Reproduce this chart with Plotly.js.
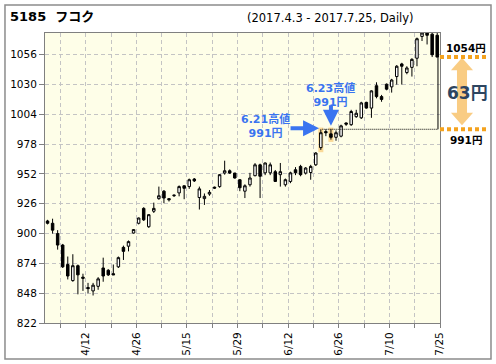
<!DOCTYPE html>
<html><head><meta charset="utf-8">
<script src="https://cdn.plot.ly/plotly-3.0.1.min.js"></script>
<style>html,body{margin:0;padding:0;background:#fff}#chart{width:496px;height:364px}</style>
</head><body><div id="chart"></div>
<script>
const dates = ['4/3','4/4','4/5','4/6','4/7','4/10','4/11','4/12','4/13','4/14','4/17','4/18','4/19','4/20','4/21','4/24','4/25','4/26','4/27','4/28',
'5/1','5/2','5/8','5/9','5/10','5/11','5/12','5/15','5/16','5/17','5/18','5/19','5/22','5/23','5/24','5/25','5/26','5/29','5/30','5/31',
'6/1','6/2','6/5','6/6','6/7','6/8','6/9','6/12','6/13','6/14','6/15','6/16','6/19','6/20','6/21','6/22','6/23','6/26','6/27','6/28','6/29','6/30',
'7/3','7/4','7/5','7/6','7/7','7/10','7/11','7/12','7/13','7/14','7/18','7/19','7/20','7/21','7/24','7/25'];
const opens  = [911,909,900,890,873,859,872,862,853,850,854,870,868,865,871,888,889,900.5,909,922,
906,919.5,930.5,937,930.5,933,935.5,941.7,941,947.6,931.5,930.5,934.5,940.5,941,952.8,954.8,952.8,947,937,
942.6,950.5,960,953,953,954,951.4,942.6,945.5,955.7,958.6,952.8,953.3,960,975,989,987,984,985,996.5,995,1002,
1001,1014.5,1009.5,1029,1019.5,1030.3,1028,1037,1048,1040.5,1045,1053,1072,1075,1074,1073];
const highs  = [912,913,903,891,880,882,873,865,857,857,862,879,869,873,880,889.5,894,904,914,923,
917,927,941,938,931,934,942,942,948,948.5,941,935,938,941,952,963.6,956,953,947.5,943,
953,961.5,961,962,962,955.5,961.6,948,954,958,960,958,960,971,991,991,991,990,995,997,1008,1008,
1015,1015,1025,1032,1021,1031,1035,1047,1049,1046,1053,1071,1076,1076,1076,1076];
const lows   = [908,900,886,870,860,858,847,850,848,846,851,858,863,864,870,877,884.5,900,908,911,
905,918,929.5,926.5,928,932,932.5,930,939,945,921,925,933,939,940,951.4,952,948,937,931,
941,950,931,951,951,945,941,941,944,951,950,951.5,947,959,973,985,982,981,984,994,994,1001,
1000,1009,1001,1018,1015,1025,1023,1030,1030,1039,1037,1046,1068,1065,1054,1054];
const closes = [909,903,890,871,863,872,864,861,852,855,860.5,863,864,864,879,884.5,893,903.5,913.6,912,
916.5,922,933,931,929.5,933.5,941,939.5,947,946,939,932.5,936,939.7,951.4,954.8,952.8,948.5,940,941.7,
948.5,960,950,961.6,960,945.5,954,947,953,953,951.4,957.2,958.6,970.3,988,988,984,988,994,995.5,1006.5,1005,
1014,1009.5,1024.5,1019.5,1017,1026,1034,1046,1046,1044.5,1052,1070,1075,1073,1056,1054];
const labelDates = ['4/12','4/26','5/15','5/29','6/12','6/26','7/10','7/25'];
const yTicks = [822,848,874,900,926,952,978,1004,1030,1056];
const highDates = ['6/21','6/23'];
const resistance = 991;
const latestClose = 1054;

const idx = dates.map((d,i)=>i);
const tickvals = [], ticktext = [];
idx.forEach(i=>{ if(i%5===2){ tickvals.push(i+0.55); ticktext.push(labelDates.includes(dates[i])?dates[i]:''); } });
const i1 = dates.indexOf(highDates[0]), i2 = dates.indexOf(highDates[1]);
const last = dates.length-1;
const BLUE = '#3a74f0', ORANGE = '#f4a21e';
const FF = 'DejaVu Sans, Noto Sans CJK JP, sans-serif';

const trace = {
  type:'candlestick', x: idx, open: opens, high: highs, low: lows, close: closes,
  increasing:{line:{color:'#000',width:1}, fillcolor:'#fff'},
  decreasing:{line:{color:'#000',width:1}, fillcolor:'#000'},
  whiskerwidth:0, hoverinfo:'skip', showlegend:false
};

const shapes = [
  {type:'rect', xref:'paper', yref:'paper', x0:-0.1013, x1:1.1291, y0:-0.1241, y1:1.0966, line:{color:'#8c8c8c',width:1.5}, layer:'below'},
  {type:'rect', xref:'x', yref:'y', x0:i1-0.5, x1:i1+0.5, y0:lows[i1]-2, y1:highs[i1]+1.5, line:{width:0}, fillcolor:'rgba(244,162,30,0.4)', layer:'below'},
  {type:'rect', xref:'x', yref:'y', x0:i2-0.5, x1:i2+0.5, y0:lows[i2]-2, y1:highs[i2]+1.5, line:{width:0}, fillcolor:'rgba(244,162,30,0.4)', layer:'below'},
  {type:'line', xref:'x', yref:'y', x0:i1+0.3, x1:last+0.15, y0:resistance, y1:resistance, line:{color:'#000',width:1,dash:'1px,1px'}},
  {type:'line', xref:'x', yref:'y', x0:last+0.15, x1:last+0.15, y0:latestClose, y1:resistance, line:{color:'#000',width:1}},
  {type:'line', xref:'paper', yref:'y', x0:1.0, x1:1.119, y0:latestClose, y1:latestClose, line:{color:ORANGE,width:4,dash:'4px,3px'}},
  {type:'line', xref:'paper', yref:'y', x0:1.0, x1:1.119, y0:resistance, y1:resistance, line:{color:ORANGE,width:4,dash:'4px,3px'}},
  {type:'path', xref:'paper', yref:'y', fillcolor:'rgba(244,162,30,0.55)', line:{width:0},
   path:`M 1.0557 ${latestClose-0.5} L 1.0277 ${latestClose-11.5} L 1.0430 ${latestClose-11.5} L 1.0430 ${resistance+14.5} L 1.0277 ${resistance+14.5} L 1.0557 ${resistance+3.5} L 1.0837 ${resistance+14.5} L 1.0684 ${resistance+14.5} L 1.0684 ${latestClose-11.5} L 1.0837 ${latestClose-11.5} Z`}
];

const annotations = [
  {xref:'paper', yref:'paper', x:-0.0937, y:1.0562, xanchor:'left', yanchor:'middle', showarrow:false,
   text:'<b>5185  フコク</b>', font:{family:FF, size:13, color:'#000'}},
  {xref:'paper', yref:'paper', x:0.5063, y:1.0517, xanchor:'left', yanchor:'middle', showarrow:false,
   text:'(2017.4.3 - 2017.7.25, Daily)', font:{family:FF, size:11.5, color:'#000'}},
  {xref:'x', yref:'y', x:43.0, y:994, xanchor:'center', showarrow:false, text:'<b>'+highDates[0].replace('/','.')+'高値<br>'+resistance+'円</b>',
   font:{family:FF, size:11, color:BLUE}},
  {xref:'x', yref:'y', x:56.0, y:1021, xanchor:'center', showarrow:false, text:'<b>'+highDates[1].replace('/','.')+'高値<br>'+resistance+'円</b>',
   font:{family:FF, size:11, color:BLUE}},
  {xref:'x', yref:'y', x:i1-0.35, y:resistance+1, ax:-30, ay:0, text:'', showarrow:true, arrowhead:2, arrowsize:0.8, arrowwidth:4, arrowcolor:BLUE},
  {xref:'x', yref:'y', x:i2, y:resistance+3, ax:0, ay:-22, text:'', showarrow:true, arrowhead:2, arrowsize:0.8, arrowwidth:4, arrowcolor:BLUE},
  {xref:'paper', yref:'y', x:1.066, y:latestClose, yshift:9, xanchor:'center', showarrow:false, text:'<b>'+latestClose+'円</b>', font:{family:FF, size:10.5, color:'#000'}},
  {xref:'paper', yref:'y', x:1.066, y:resistance, yshift:-11, xanchor:'center', showarrow:false, text:'<b>'+resistance+'円</b>', font:{family:FF, size:10.5, color:'#000'}},
  {xref:'paper', yref:'y', x:1.07, y:(latestClose+resistance)/2, xanchor:'center', showarrow:false, text:'<b>'+(latestClose-resistance)+'円</b>', font:{family:FF, size:17, color:'#2d4560'}}
];

const layout = {
  width:496, height:364,
  margin:{l:45, r:56, t:33, b:41, pad:0},
  paper_bgcolor:'#fff', plot_bgcolor:'#fefee8',
  font:{family:FF, size:10.5, color:'#000'},
  xaxis:{range:[-0.5,77.55], tickmode:'array', tickvals:tickvals, ticktext:ticktext, tickangle:-90,
    showgrid:true, gridcolor:'#c4c4c4', griddash:'4px,3px', gridwidth:1,
    ticks:'outside', ticklen:4, tickcolor:'#808080', showline:true, linecolor:'#808080', mirror:true,
    zeroline:false, rangeslider:{visible:false}, fixedrange:true, tickfont:{family:FF, size:10.5}},
  yaxis:{range:[822,1075], tickmode:'array', tickvals:yTicks, ticktext:yTicks.map(String),
    showgrid:true, gridcolor:'#c4c4c4', griddash:'4px,3px', gridwidth:1,
    ticks:'outside', ticklen:5, tickcolor:'#808080', showline:true, linecolor:'#808080', mirror:true,
    zeroline:false, fixedrange:true, tickfont:{family:FF, size:10.5}},
  shapes:shapes, annotations:annotations, showlegend:false
};

Plotly.newPlot('chart', [trace], layout, {displayModeBar:false, staticPlot:true});
</script></body></html>
